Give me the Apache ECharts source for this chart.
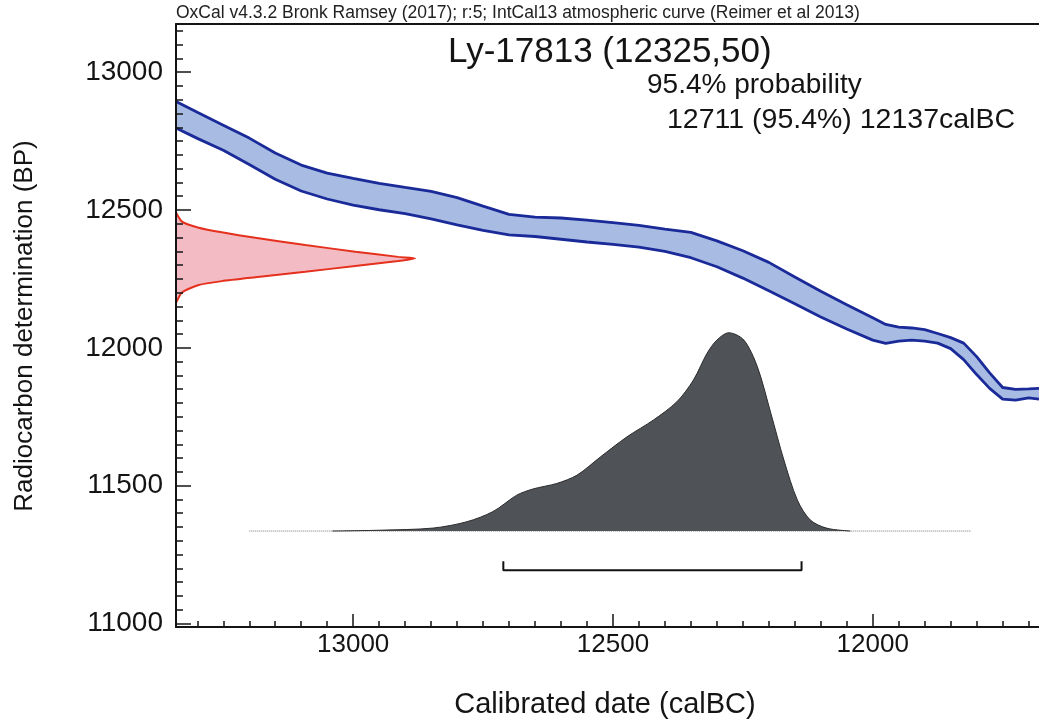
<!DOCTYPE html>
<html>
<head>
<meta charset="utf-8">
<title>Ly-17813 calibration</title>
<script src="https://cdn.jsdelivr.net/npm/echarts@6.0.0/dist/echarts.min.js"></script>
<style>
  html, body { margin: 0; padding: 0; background: #fff; }
  #chart { width: 1039px; height: 727px; }
</style>
</head>
<body>
<div id="chart"></div>
<script>
// IntCal13 band: calBC year, upper / lower edge in BP
const curveYears = [13340, 13300, 13250, 13200, 13150, 13100, 13050, 13000, 12950, 12900,
  12850, 12800, 12750, 12700, 12650, 12600, 12550, 12500, 12450, 12400,
  12350, 12300, 12250, 12200, 12150, 12100, 12050, 12000, 11975, 11950,
  11925, 11900, 11875, 11850, 11825, 11800, 11775, 11750, 11725, 11700, 11680];
const curveUpper = [12893, 12855, 12808, 12761, 12707, 12663, 12634, 12615, 12597, 12582,
  12568, 12545, 12514, 12484, 12474, 12471, 12463, 12454, 12444, 12431,
  12419, 12388, 12352, 12310, 12257, 12205, 12156, 12109, 12085, 12075,
  12072, 12066, 12052, 12037, 12017, 11968, 11909, 11856, 11849, 11851, 11853];
const curveLower = [12797, 12760, 12717, 12665, 12612, 12569, 12540, 12518, 12501, 12487,
  12468, 12446, 12426, 12410, 12404, 12394, 12384, 12375, 12365, 12350,
  12327, 12294, 12253, 12207, 12160, 12112, 12068, 12028, 12016, 12024,
  12028, 12024, 12017, 11997, 11957, 11903, 11853, 11814, 11810, 11818, 11814];

// measurement 12325 +/- 50 BP, relative probability drawn along the BP axis
const c14BP = [12491, 12458, 12436, 12419, 12399, 12373, 12349, 12330, 12325,
  12315, 12297, 12276, 12256, 12242, 12228, 12201, 12163];
const c14Prob = [0, 0.025, 0.095, 0.192, 0.332, 0.541, 0.75, 0.93, 1.0,
  0.93, 0.75, 0.541, 0.332, 0.192, 0.095, 0.025, 0];

// calibrated date distribution (relative probability)
const calYears = [13040, 12950, 12846, 12781, 12731, 12685, 12654, 12608, 12569, 12524,
  12473, 12422, 12377, 12345, 12319, 12300, 12277, 12248, 12222, 12196,
  12171, 12145, 12120, 12088, 12043];
const calProb = [0, 0.004, 0.015, 0.047, 0.098, 0.181, 0.212, 0.24, 0.282, 0.374,
  0.475, 0.56, 0.652, 0.762, 0.896, 0.963, 1.0, 0.963, 0.828, 0.593,
  0.358, 0.156, 0.055, 0.014, 0];
const calBaseline = [13200, 11810];

// 95.4% range bracket
const rangeFrom = 12711, rangeTo = 12137;
const bracketBP = 11193, bracketTipBP = 11226;

// ticks
const xMajor = [12000, 12500, 13000];
const yMajor = [11000, 11500, 12000, 12500, 13000];
const xMinor = [];
for (let v = 11700; v <= 13300; v += 50) xMinor.push(v);
const yMinor = [];
for (let v = 11000; v <= 13150; v += 50) yMinor.push(v);

const FONT = 'Liberation Sans';
const INK = '#141414';

const zip = (a, b) => a.map((v, i) => [v, b[i]]);

const bandPoly = zip(curveYears, curveUpper).concat(zip(curveYears, curveLower).reverse());
const c14Poly = [[0, c14BP[0]]].concat(zip(c14Prob, c14BP), [[0, c14BP[c14BP.length - 1]]]);

// filled polygon through the axes' scales
function polygon(points, xi, yi, fill, z, smooth) {
  return {
    type: 'custom', xAxisIndex: xi, yAxisIndex: yi, z: z, silent: true,
    data: points,
    renderItem: function (params, api) {
      if (params.dataIndex !== 0) return;
      return {
        type: 'polygon',
        shape: { points: points.map(p => api.coord(p)), smooth: smooth || 0 },
        style: { fill: fill }
      };
    }
  };
}

function line(data, xi, yi, color, width, z, extra) {
  return Object.assign({
    type: 'line', xAxisIndex: xi, yAxisIndex: yi, z: z, silent: true,
    data: data, showSymbol: false, symbol: 'none',
    lineStyle: { color: color, width: width }
  }, extra || {});
}

const chart = echarts.init(document.getElementById('chart'));

const xRange = { min: 11680, max: 13341 };
const yRange = { min: 10987, max: 13175 };
const plain = v => String(v);

chart.setOption({
  animation: false,
  grid: { left: 176, right: 0, top: 24, bottom: 100, containLabel: false, outerBoundsMode: 'none' },
  xAxis: [
    {
      type: 'value', inverse: true, position: 'bottom', z: 10,
      min: xRange.min, max: xRange.max,
      axisLine: { onZero: false, lineStyle: { color: INK, width: 2 } },
      axisTick: { inside: true, length: 13, customValues: xMajor, lineStyle: { color: INK, width: 1.5 } },
      axisLabel: { customValues: xMajor, formatter: plain, margin: 5, fontSize: 26, fontFamily: FONT, color: INK },
      splitLine: { show: false }
    },
    {
      // density scale for the measurement curve; its line is the top frame
      type: 'value', position: 'top', z: 10, min: 0, max: 3.611,
      axisLine: { onZero: false, lineStyle: { color: INK, width: 2 } },
      axisTick: { show: false }, axisLabel: { show: false }, splitLine: { show: false }
    },
    {
      type: 'value', inverse: true, position: 'bottom', z: 10,
      min: xRange.min, max: xRange.max,
      axisLine: { show: false, onZero: false },
      axisTick: { inside: true, length: 6, customValues: xMinor, lineStyle: { color: INK, width: 1.5 } },
      axisLabel: { show: false }, splitLine: { show: false }
    }
  ],
  yAxis: [
    {
      type: 'value', position: 'left', z: 10,
      min: yRange.min, max: yRange.max,
      axisLine: { onZero: false, lineStyle: { color: INK, width: 2 } },
      axisTick: { inside: true, length: 15, customValues: yMajor, lineStyle: { color: INK, width: 1.5 } },
      axisLabel: { customValues: yMajor, formatter: plain, margin: 13, fontSize: 28, fontFamily: FONT, color: INK },
      splitLine: { show: false }
    },
    {
      // density scale for the calibrated distribution
      type: 'value', position: 'right', show: false, min: -0.484, max: 2.557,
      axisLine: { onZero: false },
      splitLine: { show: false }
    },
    {
      type: 'value', position: 'left', z: 10,
      min: yRange.min, max: yRange.max,
      axisLine: { show: false, onZero: false },
      axisTick: { inside: true, length: 7, customValues: yMinor, lineStyle: { color: INK, width: 1.5 } },
      axisLabel: { show: false }, splitLine: { show: false }
    }
  ],
  series: [
    polygon(bandPoly, 0, 0, '#a8bce3', 2),
    line(zip(curveYears, curveUpper), 0, 0, '#1a2a98', 2.8, 3),
    line(zip(curveYears, curveLower), 0, 0, '#1a2a98', 2.8, 3),
    polygon(c14Poly, 1, 0, '#f3bcc4', 2, 0.2),
    line(zip(c14Prob, c14BP), 1, 0, '#e4301c', 2, 3, { smooth: 0.2 }),
    line(calBaseline.map(v => [v, 0]), 0, 1, '#777', 1, 2, { lineStyle: { color: '#777', width: 1, type: 'dotted' } }),
    line(zip(calYears, calProb), 0, 1, '#2b2b2b', 1, 3, {
      smooth: 0.3,
      areaStyle: { color: '#4f5257', opacity: 1 }
    }),
    line([[rangeFrom, bracketTipBP], [rangeFrom, bracketBP], [rangeTo, bracketBP], [rangeTo, bracketTipBP]],
      0, 0, '#111', 2, 3)
  ],
  graphic: [
    { type: 'text', x: 176, y: 13, style: { text: 'OxCal v4.3.2 Bronk Ramsey (2017); r:5; IntCal13 atmospheric curve (Reimer et al 2013)',
      fontSize: 17.5, fontFamily: FONT, fill: '#222', verticalAlign: 'middle' } },
    { type: 'text', x: 448, y: 52, style: { text: 'Ly-17813 (12325,50)',
      fontSize: 35, fontFamily: FONT, fill: INK, verticalAlign: 'middle' } },
    { type: 'text', x: 647, y: 85, style: { text: '95.4% probability',
      fontSize: 28, fontFamily: FONT, fill: INK, verticalAlign: 'middle' } },
    { type: 'text', x: 667, y: 120, style: { text: '12711 (95.4%) 12137calBC',
      fontSize: 28.5, fontFamily: FONT, fill: INK, verticalAlign: 'middle' } },
    { type: 'text', x: 25, y: 326, rotation: Math.PI / 2, style: { text: 'Radiocarbon determination (BP)',
      fontSize: 26, fontFamily: FONT, fill: INK, align: 'center', verticalAlign: 'middle' } },
    { type: 'text', x: 605, y: 705, style: { text: 'Calibrated date (calBC)',
      fontSize: 29, fontFamily: FONT, fill: INK, align: 'center', verticalAlign: 'middle' } }
  ]
});
</script>
</body>
</html>
